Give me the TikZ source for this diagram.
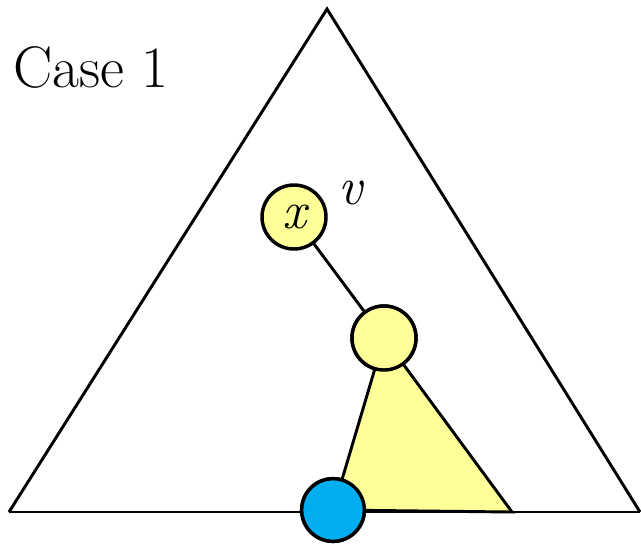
\documentclass[tikz,border=0pt]{standalone}
\usepackage{xcolor}
\usetikzlibrary{positioning}

\definecolor{lightyel}{HTML}{FFFF99}
\definecolor{leafblue}{HTML}{00AEEF}

\begin{document}
\begin{tikzpicture}[
    x=0.75pt, y=-0.75pt,
    every node/.style={font=\fontsize{40}{44}\selectfont},
    nd/.style={circle, draw=black, line width=2.6pt, minimum size=48pt,
               inner sep=0pt, fill=lightyel},
    leaf/.style={circle, draw=black, line width=2.6pt, minimum size=47pt,
                 inner sep=0pt, fill=leafblue},
    edge/.style={line width=2.2pt}
]
\useasboundingbox (0,0) rectangle (641,544);
\coordinate (top) at (327,9);
\coordinate (bl)  at (9,512);
\coordinate (br)  at (640,512);
\coordinate (sub) at (512,512);

\node[nd]   (x)    at (294,217) {\itshape x};
\node[nd]   (r)    at (384,338) {};
\node[leaf] (leaf) at (333,510) {};

\draw[edge, line join=miter] (bl) -- (top) -- (br);
\filldraw[edge, fill=lightyel] (r.center) -- (leaf.center) -- (sub) -- cycle;
\draw[edge] (bl) -- (br);
\draw[edge] (x) -- (r);
\node[nd]   at (r)    {};
\node[leaf] at (leaf) {};

\node[anchor=base]      (v)    at (350,204) {\itshape v};
\node[anchor=base west, inner sep=0pt, font=\fontsize{44}{48}\selectfont]
  (case) at (13,87) {Case 1};
\end{tikzpicture}
\end{document}
